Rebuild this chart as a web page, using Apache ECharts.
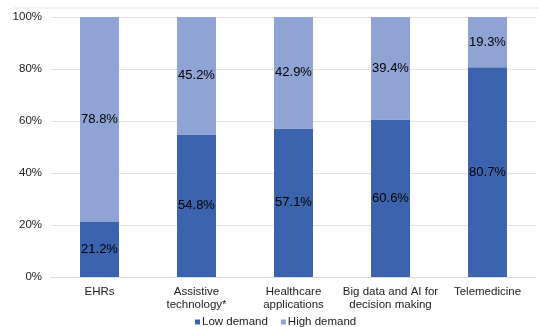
<!DOCTYPE html>
<html>
<head>
<meta charset="utf-8">
<script src="https://cdn.jsdelivr.net/npm/echarts@6/dist/echarts.min.js"></script>
<style>
  html, body { margin: 0; padding: 0; background: #fff; }
  #chart { width: 539px; height: 327px; }
</style>
</head>
<body>
<div id="chart"></div>
<script>
// Share of respondents by demand level, per digital health area
const categories = ['EHRs', 'Assistive\ntechnology*', 'Healthcare\napplications', 'Big data and AI for\ndecision making', 'Telemedicine'];
const lowDemand = [21.2, 54.8, 57.1, 60.6, 80.7];
const highDemand = [78.8, 45.2, 42.9, 39.4, 19.3];
const yTicks = [0, 20, 40, 60, 80, 100];

const FONT = '"Liberation Sans", Arial, sans-serif';
const chart = echarts.init(document.getElementById('chart'));

const valueLabel = {
  show: true,
  position: 'inside',
  formatter: p => p.value.toFixed(1) + '%',
  color: '#000',
  fontFamily: FONT,
  fontSize: 13
};

chart.setOption({
  animation: false,
  textStyle: { fontFamily: FONT },
  graphic: [{
    type: 'line',
    shape: { x1: 13, y1: 8, x2: 539, y2: 8 },
    style: { stroke: '#e6e6e6', lineWidth: 1 }
  }],
  grid: { left: 51, right: 3, top: 17, bottom: 50 },
  legend: {
    top: 315,
    left: 195,
    itemWidth: 5,
    itemHeight: 5,
    itemGap: 13,
    icon: 'rect',
    padding: 0,
    textStyle: { fontSize: 11.5, lineHeight: 14, color: '#222', fontFamily: FONT, padding: [0, 0, 0, -3] },
    data: ['Low demand', 'High demand']
  },
  xAxis: {
    type: 'category',
    data: categories,
    axisLine: { lineStyle: { color: '#d9d9d9' } },
    axisTick: { show: false },
    axisLabel: { color: '#222', fontSize: 11.5, lineHeight: 13, margin: 8, interval: 0 }
  },
  yAxis: {
    type: 'value',
    min: yTicks[0],
    max: yTicks[yTicks.length - 1],
    interval: 20,
    axisLine: { show: false },
    axisTick: { show: false },
    splitLine: { lineStyle: { color: '#e3e3e3' } },
    axisLabel: { formatter: v => v + '%', color: '#222', fontSize: 11.5, margin: 9 }
  },
  series: [
    {
      name: 'Low demand',
      type: 'bar',
      stack: 'demand',
      barWidth: 39,
      data: lowDemand,
      itemStyle: { color: '#3c64ae' },
      label: valueLabel
    },
    {
      name: 'High demand',
      type: 'bar',
      stack: 'demand',
      barWidth: 39,
      data: highDemand,
      itemStyle: { color: '#8fa4d4' },
      label: valueLabel
    }
  ]
});
</script>
</body>
</html>
